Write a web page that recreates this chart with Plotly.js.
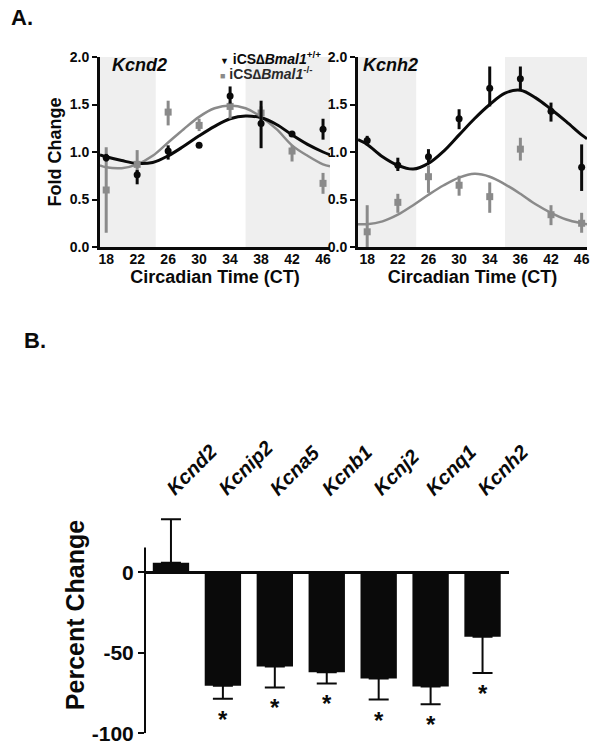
<!DOCTYPE html>
<html>
<head>
<meta charset="utf-8">
<script src="https://cdn.plot.ly/plotly-3.0.1.min.js"></script>
<style>html,body{margin:0;padding:0;background:#fff;}#chart{width:602px;height:749px;}</style>
</head>
<body>
<div id="chart"></div>
<script>
// ---------- Panel A data ----------
const ct = [18, 22, 26, 30, 34, 38, 42, 46];
const ctTicksLeft = ['18', '22', '26', '30', '34', '38', '42', '46'];
const ctTicksRight = ['18', '22', '26', '30', '34', '36', '42', '46'];
const darkStart = [16, 36];
const darkEnd = [24.4, 48];

// Kcnd2
const kcnd2WT = [0.94, 0.76, 1.01, 1.07, 1.59, 1.30, 1.19, 1.24];
const kcnd2WTup = [0.04, 0.05, 0.06, 0.0, 0.10, 0.24, 0.03, 0.11];
const kcnd2WTdn = [0.04, 0.10, 0.09, 0.0, 0.08, 0.26, 0.03, 0.11];
const kcnd2KO = [0.60, 0.87, 1.42, 1.28, 1.48, 1.41, 1.01, 0.67];
const kcnd2KOup = [0.45, 0.15, 0.12, 0.07, 0.05, 0.07, 0.06, 0.11];
const kcnd2KOdn = [0.45, 0.14, 0.14, 0.06, 0.13, 0.09, 0.11, 0.11];
// fitted curves
const fitCtLeft = [17.2, 18, 20, 22, 24, 26, 28, 30, 32, 34, 36, 38, 40, 42, 44, 46, 46.9];
const kcnd2WTfit = [0.97, 0.95, 0.91, 0.88, 0.89, 0.96, 1.06, 1.17, 1.27, 1.35, 1.38, 1.36, 1.29, 1.18, 1.08, 1.00, 0.97];
const kcnd2KOfit = [0.86, 0.84, 0.83, 0.87, 0.96, 1.10, 1.24, 1.37, 1.46, 1.49, 1.46, 1.37, 1.24, 1.07, 0.96, 0.87, 0.85];

// Kcnh2
const kcnh2WT = [1.12, 0.86, 0.95, 1.35, 1.67, 1.77, 1.43, 0.84];
const kcnh2WTup = [0.05, 0.08, 0.08, 0.10, 0.23, 0.13, 0.09, 0.24];
const kcnh2WTdn = [0.05, 0.06, 0.06, 0.11, 0.19, 0.12, 0.11, 0.25];
const kcnh2KO = [0.16, 0.47, 0.74, 0.65, 0.53, 1.03, 0.34, 0.25];
const kcnh2KOup = [0.28, 0.09, 0.12, 0.10, 0.15, 0.12, 0.10, 0.11];
const kcnh2KOdn = [0.16, 0.11, 0.17, 0.11, 0.17, 0.12, 0.11, 0.10];
const fitCtRight = [16.8, 18, 20, 22, 24, 26, 28, 30, 32, 34, 36, 38, 40, 42, 44, 46, 46.7];
const kcnh2WTfit = [1.13, 1.08, 0.95, 0.86, 0.82, 0.88, 1.01, 1.18, 1.35, 1.50, 1.62, 1.65, 1.57, 1.45, 1.32, 1.18, 1.14];
const kcnh2KOfit = [0.24, 0.24, 0.27, 0.34, 0.44, 0.55, 0.65, 0.73, 0.77, 0.74, 0.66, 0.56, 0.45, 0.36, 0.29, 0.25, 0.24];

// ---------- Panel B data ----------
const genes = ['Kcnd2', 'Kcnip2', 'Kcna5', 'Kcnb1', 'Kcnj2', 'Kcnq1', 'Kcnh2'];
const pctChange = [6, -70.5, -58.5, -62, -66, -71, -40];
const pctErr = [27, 8, 13, 7, 13, 11, 22.5];
const significant = [false, true, true, true, true, true, true];

// ---------- styling ----------
const W = 602, H = 749;
const FONT = 'Liberation Sans, Arial, sans-serif';
const BLACK = '#0a0a0a';
const GREY = '#8a8a8a';
const SHADE = '#efefef';
const px = v => v / W;
const py = v => 1 - v / H;

function pts(x, y, up, dn, color, symbol, xa, ya) {
  return {
    x: x, y: y, type: 'scatter', mode: 'markers', xaxis: xa, yaxis: ya,
    marker: {color: color, size: 7, symbol: symbol},
    error_y: {type: 'data', symmetric: false, array: up, arrayminus: dn, color: color, thickness: 3, width: 0},
    cliponaxis: false, showlegend: false, hoverinfo: 'skip'
  };
}
function fit(x, y, color, w, xa, ya) {
  return {x: x, y: y, type: 'scatter', mode: 'lines', xaxis: xa, yaxis: ya,
    line: {color: color, width: w, shape: 'spline', smoothing: 1}, showlegend: false, hoverinfo: 'skip'};
}
const idx = genes.map((g, i) => i);
const errDown = pctChange.map((v, i) => v < 0 ? pctErr[i] : 0);
const errUp = pctChange.map((v, i) => v >= 0 ? pctErr[i] : 0);

const data = [
  fit(fitCtLeft, kcnd2KOfit, GREY, 2.5, 'x', 'y'),
  fit(fitCtLeft, kcnd2WTfit, BLACK, 3, 'x', 'y'),
  pts(ct, kcnd2KO, kcnd2KOup, kcnd2KOdn, GREY, 'square', 'x', 'y'),
  pts(ct, kcnd2WT, kcnd2WTup, kcnd2WTdn, BLACK, 'circle', 'x', 'y'),
  fit(fitCtRight, kcnh2KOfit, GREY, 2.5, 'x2', 'y2'),
  fit(fitCtRight, kcnh2WTfit, BLACK, 3, 'x2', 'y2'),
  pts(ct, kcnh2KO, kcnh2KOup, kcnh2KOdn, GREY, 'square', 'x2', 'y2'),
  pts(ct, kcnh2WT, kcnh2WTup, kcnh2WTdn, BLACK, 'circle', 'x2', 'y2'),
  {
    x: idx, y: pctChange, type: 'bar', xaxis: 'x3', yaxis: 'y3',
    marker: {color: BLACK, line: {width: 0}},
    error_y: {type: 'data', symmetric: false, array: errUp, arrayminus: errDown, color: BLACK, thickness: 2, width: 10},
    showlegend: false, hoverinfo: 'skip', cliponaxis: false
  }
];

const tickFontA = {family: FONT, size: 14, color: BLACK, weight: 'bold'};
const titleFontA = {family: FONT, size: 18, color: BLACK, weight: 'bold'};

function xA(dom, range, labels) {
  return {domain: dom, range: range, tickmode: 'array', tickvals: ct, ticktext: labels,
    showline: true, linecolor: BLACK, linewidth: 3, ticks: '', showgrid: false, zeroline: false,
    ticklabelstandoff: -3, tickfont: tickFontA, fixedrange: true};
}
function yA(dom, anchor) {
  return {domain: dom, range: [0, 2.0], anchor: anchor, tickvals: [0, 0.5, 1.0, 1.5, 2.0],
    ticktext: ['0.0', '0.5', '1.0', '1.5', '2.0'],
    showline: true, linecolor: BLACK, linewidth: 3, ticks: 'outside', ticklen: 5, tickwidth: 2,
    tickcolor: BLACK, showgrid: false, zeroline: false, tickfont: tickFontA};
}

const yDomA = [py(247), py(57)];
const layout = {
  width: W, height: H,
  margin: {l: 0, r: 0, t: 0, b: 0},
  paper_bgcolor: '#fff', plot_bgcolor: 'rgba(0,0,0,0)',
  font: {family: FONT, color: BLACK},
  showlegend: false,
  xaxis: Object.assign(xA([px(100), px(330)], [17.2, 46.9], ctTicksLeft), {anchor: 'y',
    title: {text: 'Circadian Time (CT)', font: titleFontA, standoff: 2}}),
  yaxis: Object.assign(yA(yDomA, 'x'), {title: {text: 'Fold Change', font: titleFontA, standoff: 4}}),
  xaxis2: Object.assign(xA([px(358), px(587)], [16.8, 46.7], ctTicksRight), {anchor: 'y2',
    title: {text: 'Circadian Time (CT)', font: titleFontA, standoff: 2}}),
  yaxis2: yA(yDomA, 'x2'),
  xaxis3: {domain: [px(145), px(508.5)], range: [-0.5, 6.5], anchor: 'y3',
    tickmode: 'array', tickvals: idx, ticktext: genes, showticklabels: false, ticks: '',
    showline: false, showgrid: false, zeroline: false},
  yaxis3: {domain: [py(733.3), py(496.7)], range: [-100, 47], anchor: 'x3',
    tickvals: [0, -50, -100], ticktext: ['0', '-50', '-100'],
    showline: false, ticks: 'outside', ticklen: 6, tickwidth: 2, tickcolor: BLACK,
    showgrid: false, zeroline: true, zerolinecolor: BLACK, zerolinewidth: 2.5,
    tickfont: {family: FONT, size: 21, color: BLACK, weight: 'bold'},
    title: {text: 'Percent Change', font: {family: FONT, size: 25, color: BLACK, weight: 'bold'}, standoff: 0}},
  bargap: 0.30,
  shapes: [],
  annotations: []
};

// dark-phase shading
['x', 'x2'].forEach(xr => {
  darkStart.forEach((s, i) => {
    layout.shapes.push({type: 'rect', xref: xr, yref: (xr === 'x' ? 'y' : 'y2') + ' domain',
      x0: s, x1: darkEnd[i], y0: 0, y1: 1, fillcolor: SHADE, line: {width: 0}, layer: 'below'});
  });
});
// y axis line of panel B (stops a little above zero)
layout.shapes.push({type: 'line', xref: 'paper', yref: 'y3', x0: px(145), x1: px(145), y0: -100, y1: 15.5,
  line: {color: BLACK, width: 2}});

// panel letters, panel titles, key
layout.annotations.push(
  {text: 'A.', xref: 'paper', yref: 'paper', x: px(9), y: py(18), xanchor: 'left', yanchor: 'middle',
    showarrow: false, font: {family: FONT, size: 22, color: BLACK, weight: 'bold'}},
  {text: 'B.', xref: 'paper', yref: 'paper', x: px(22), y: py(340), xanchor: 'left', yanchor: 'middle',
    showarrow: false, font: {family: FONT, size: 22, color: BLACK, weight: 'bold'}},
  {text: 'Kcnd2', xref: 'paper', yref: 'paper', x: px(110), y: py(65), xanchor: 'left', yanchor: 'middle',
    showarrow: false, font: {family: FONT, size: 18, color: BLACK, weight: 'bold', style: 'italic'}},
  {text: 'Kcnh2', xref: 'paper', yref: 'paper', x: px(361), y: py(65), xanchor: 'left', yanchor: 'middle',
    showarrow: false, font: {family: FONT, size: 18, color: BLACK, weight: 'bold', style: 'italic'}},
  {text: '<span style="color:' + BLACK + ';font-size:9px">▼</span> iCS∆<i>Bmal1</i><sup>+/+</sup>',
    xref: 'paper', yref: 'paper', x: px(218), y: py(58), xanchor: 'left', yanchor: 'middle',
    showarrow: false, font: {family: FONT, size: 14, color: BLACK, weight: 'bold'}},
  {text: '<span style="color:' + GREY + ';font-size:9px">■</span> iCS∆<i>Bmal1</i><sup>-/-</sup>',
    xref: 'paper', yref: 'paper', x: px(218), y: py(73), xanchor: 'left', yanchor: 'middle',
    showarrow: false, font: {family: FONT, size: 14, color: '#2a2a2a', weight: 'bold'}}
);
// gene labels above the bars (rotated)
genes.forEach((g, i) => {
  layout.annotations.push({text: g, xref: 'x3', yref: 'paper', x: i, y: py(502),
    xanchor: 'left', yanchor: 'bottom', xshift: -12, textangle: -45, showarrow: false,
    font: {family: FONT, size: 20, color: BLACK, weight: 'bold', style: 'italic'}});
});
// significance asterisks
genes.forEach((g, i) => {
  if (significant[i]) {
    layout.annotations.push({text: '*', xref: 'x3', yref: 'y3', x: i, y: pctChange[i] - pctErr[i],
      xanchor: 'center', yanchor: 'top', yshift: -5, showarrow: false,
      font: {family: FONT, size: 24, color: BLACK, weight: 'bold'}});
  }
});

Plotly.newPlot('chart', data, layout, {staticPlot: true, displayModeBar: false});
</script>
</body>
</html>
